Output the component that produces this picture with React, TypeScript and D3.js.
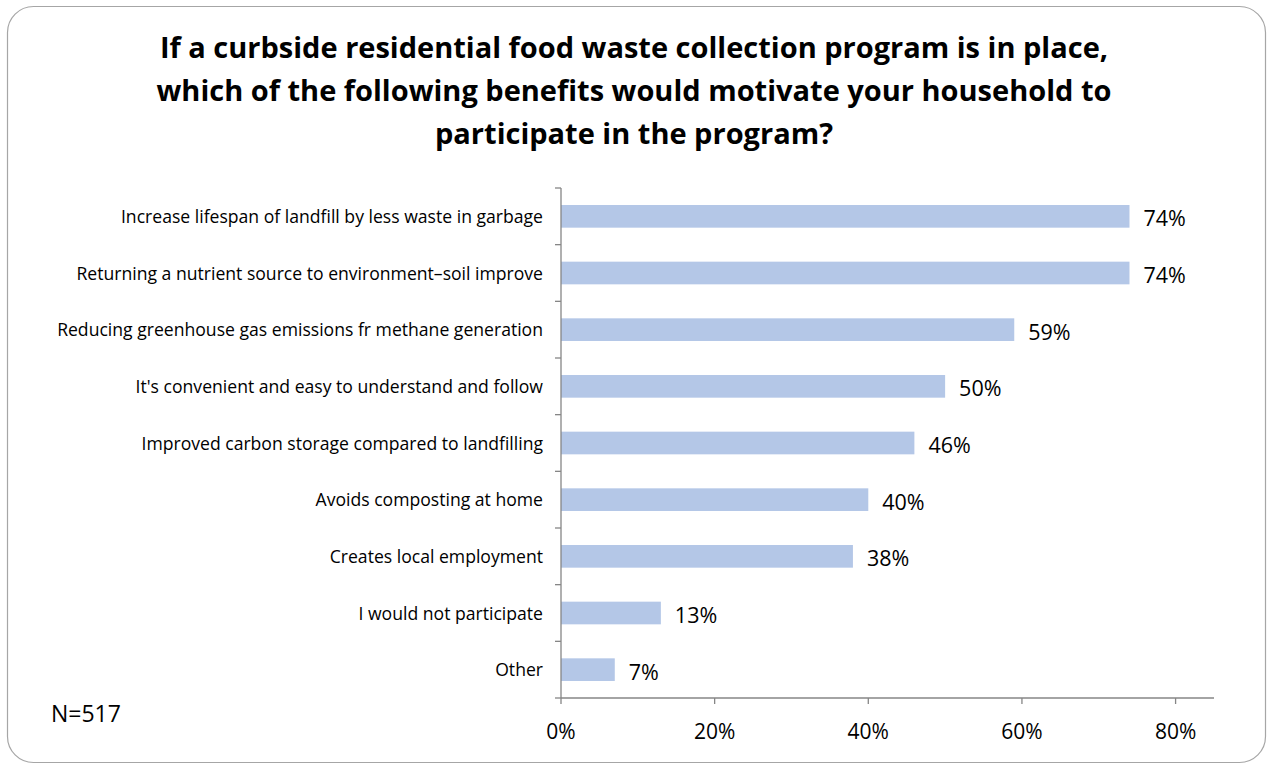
import React from "react";
import * as d3 from "d3";

const titleLines = [
  "If a curbside residential food waste collection program is in place,",
  "which of the following benefits would motivate your household to",
  "participate in the program?",
];
const categories = [
  "Increase lifespan of landfill by less waste in garbage",
  "Returning a nutrient source to environment\u2013soil improve",
  "Reducing greenhouse gas emissions fr methane generation",
  "It's convenient and easy to understand and follow",
  "Improved carbon storage compared to landfilling",
  "Avoids composting at home",
  "Creates local employment",
  "I would not participate",
  "Other",
];
const values = [0.74, 0.74, 0.59, 0.5, 0.46, 0.4, 0.38, 0.13, 0.07];
const xTicks = [0, 0.2, 0.4, 0.6, 0.8];
const note = "N=517";

const W = 1268;
const H = 765;
const FONT = "'Open Sans', sans-serif";

export default function App() {
  const left = 561;
  const right = 1214;
  const top = 188;
  const bottom = 698;
  const x = d3.scaleLinear().domain([0, 0.85]).range([left, right]);
  const y = d3.scaleBand<string>().domain(categories).range([top, bottom]).paddingInner(0.6).paddingOuter(0.3);
  const yb = d3.scaleBand<string>().domain(categories).range([top, bottom]);
  const fmt = d3.format(".0%");
  const axisColor = "#868686";
  const bounds = yb.domain().map((c) => yb(c)!).concat([bottom]);

  return (
    <svg width={W} height={H} style={{ position: "absolute", left: 0, top: 0, background: "#fff" }}>
      <rect x={7.5} y={6.5} width={1258} height={756} rx={26} ry={26} fill="#fff" stroke="#a6a6a6" strokeWidth={1.2} />
      <g fontFamily={FONT} fontWeight={700} fontSize={29} fill="#000" textAnchor="middle">
        {titleLines.map((t, i) => (
          <text key={i} x={634} y={58 + i * 43}>{t}</text>
        ))}
      </g>
      {categories.map((c, i) => (
        <rect key={c} x={x(0)} y={y(c)!} width={x(values[i]) - x(0)} height={y.bandwidth()} fill="#b4c7e7" />
      ))}
      <g fontFamily={FONT} fontSize={21.5} fill="#000">
        {categories.map((c, i) => (
          <text key={c} x={x(values[i]) + 14} y={y(c)! + y.bandwidth() / 2 + 10}>{fmt(values[i])}</text>
        ))}
      </g>
      <g fontFamily={FONT} fontSize={17.6} fill="#000" textAnchor="end">
        {categories.map((c) => (
          <text key={c} x={543} y={yb(c)! + yb.bandwidth() / 2 + 6.5}>{c}</text>
        ))}
      </g>
      <line x1={left} x2={left} y1={top} y2={bottom} stroke={axisColor} strokeWidth={1.3} />
      {bounds.map((b, i) => (
        <line key={i} x1={left - 6} x2={left} y1={b} y2={b} stroke={axisColor} strokeWidth={1.3} />
      ))}
      <line x1={left} x2={right} y1={bottom} y2={bottom} stroke={axisColor} strokeWidth={1.3} />
      {xTicks.map((t) => (
        <line key={t} x1={x(t)} x2={x(t)} y1={bottom} y2={bottom + 6} stroke={axisColor} strokeWidth={1.3} />
      ))}
      <g fontFamily={FONT} fontSize={21} fill="#000" textAnchor="middle">
        {xTicks.map((t) => (
          <text key={t} x={x(t)} y={739}>{fmt(t)}</text>
        ))}
      </g>
      <text x={51} y={722} fontFamily={FONT} fontSize={23} fill="#000">{note}</text>
    </svg>
  );
}
